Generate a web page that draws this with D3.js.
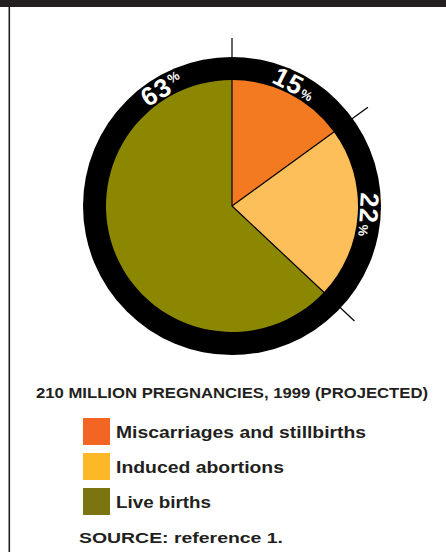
<!DOCTYPE html>
<html>
<head>
<meta charset="utf-8">
<script src="https://cdn.jsdelivr.net/npm/d3@7"></script>
<style>
  html, body { margin: 0; padding: 0; background: #fff; }
  svg { display: block; }
  text { font-family: "Liberation Sans", Arial, Helvetica, sans-serif; font-weight: bold; }
</style>
</head>
<body>
<svg id="chart" width="446" height="552"></svg>
<script>
// Outcomes of pregnancies worldwide (percent)
const categories = ["Miscarriages and stillbirths", "Induced abortions", "Live births"];
const shares = [15, 22, 63];
const pieColors = ["#F47A21", "#FDBF59", "#8C8700"];
const legendColors = ["#F26522", "#FDB827", "#7A7511"];
const title = "210 MILLION PREGNANCIES, 1999 (PROJECTED)";
const source = "SOURCE: reference 1.";

const W = 446, H = 552;
const svg = d3.select("#chart");
const ink = "#231F20";

// frame: dark band on top, rule down the left side
svg.append("rect").attr("x", 0).attr("y", 0).attr("width", W).attr("height", 7).attr("fill", ink);
svg.append("rect").attr("x", 8.5).attr("y", 7).attr("width", 1.6).attr("height", H - 7).attr("fill", ink);

const cx = 232, cy = 206;
const rPie = 126, rRing = 149, rTick = 168;

const g = svg.append("g").attr("transform", `translate(${cx},${cy})`);

const pie = d3.pie().sort(null).value(d => d)(shares);

// black ring around the pie
g.append("circle").attr("r", rRing).attr("fill", "#000");

const arc = d3.arc().innerRadius(0).outerRadius(rPie);
g.selectAll("path.slice").data(pie).join("path")
  .attr("class", "slice")
  .attr("d", arc)
  .attr("fill", (d, i) => pieColors[i]);

// dividing rules from centre out past the ring
g.selectAll("line.div").data(pie).join("line")
  .attr("class", "div")
  .attr("x1", 0).attr("y1", 0)
  .attr("x2", d => rTick * Math.sin(d.startAngle))
  .attr("y2", d => -rTick * Math.cos(d.startAngle))
  .attr("stroke", "#000").attr("stroke-width", 1.2);

// percentage labels set along the ring
const rLabel = 137;
pie.forEach((d, i) => {
  let a = (d.startAngle + d.endAngle) / 2;
  const big = d.endAngle - d.startAngle > Math.PI;
  if (big) a = d.endAngle - 0.54; // big slice: label near the top
  const deg = a * 180 / Math.PI;
  const t = g.append("text")
    .attr("transform", `rotate(${deg}) translate(0,${-rLabel})`)
    .attr("text-anchor", "middle")
    .attr("dominant-baseline", "central")
    .attr("fill", "#fff");
  t.append("tspan").attr("font-size", 26).attr("letter-spacing", 1).text(shares[i]);
  t.append("tspan").attr("font-size", 13).attr("dx", 1).attr("dy", big ? -4 : 4).text("%");
});

// subtitle
svg.append("text")
  .attr("x", 36).attr("y", 398)
  .attr("font-size", 14)
  .attr("textLength", 392).attr("lengthAdjust", "spacingAndGlyphs")
  .attr("fill", ink)
  .text(title);

// legend
const legendWidths = [250, 168, 95];
const leg = svg.append("g");
const rows = leg.selectAll("g").data(categories).join("g")
  .attr("transform", (d, i) => `translate(83,${418 + i * 35})`);
rows.append("rect").attr("width", 27).attr("height", 27).attr("fill", (d, i) => legendColors[i]);
rows.append("text").attr("x", 33).attr("y", 20).attr("font-size", 16.5)
  .attr("textLength", (d, i) => legendWidths[i]).attr("lengthAdjust", "spacingAndGlyphs")
  .attr("fill", ink).text(d => d);

svg.append("text")
  .attr("x", 79).attr("y", 543)
  .attr("font-size", 15.5)
  .attr("textLength", 204).attr("lengthAdjust", "spacingAndGlyphs")
  .attr("fill", ink)
  .text(source);
</script>
</body>
</html>
